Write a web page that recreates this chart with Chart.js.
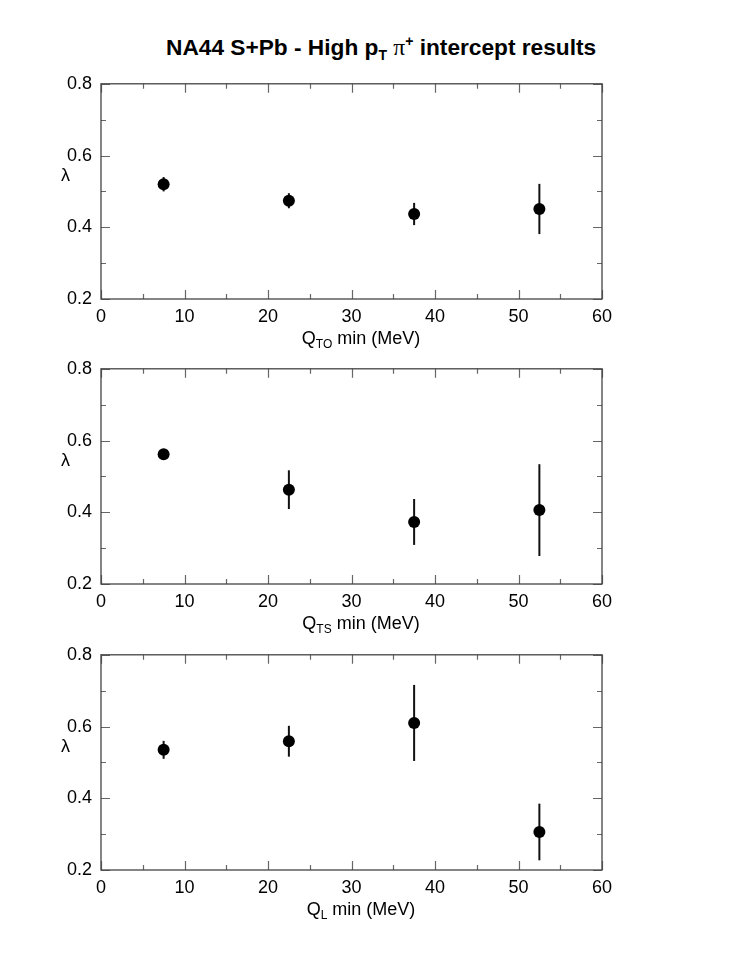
<!DOCTYPE html>
<html>
<head>
<meta charset="utf-8">
<title>NA44 S+Pb intercept results</title>
<script src="https://cdn.jsdelivr.net/npm/chart.js@4.4.0/dist/chart.umd.min.js"></script>
<style>
body{margin:0;background:#fff;width:740px;height:969px;position:relative;overflow:hidden;font-family:"Liberation Sans",Arial,Helvetica,sans-serif;color:#000;}
.panel{position:absolute;left:0;width:740px;}
.lbl{position:absolute;white-space:nowrap;font-size:18px;line-height:18px;}
.lbl sub{font-size:12px;vertical-align:-4px;line-height:0;}
#title{position:absolute;left:166px;top:36px;font-size:22.7px;line-height:22px;font-weight:bold;white-space:nowrap;}
#title sub{font-size:14px;vertical-align:-5px;line-height:0;}
#title sup{font-size:14px;vertical-align:9px;line-height:0;}
#title .pi{font-family:"Liberation Serif",serif;font-weight:normal;font-size:23.5px;}
</style>
</head>
<body>
<div id="title">NA44 S+Pb - High p<sub>T</sub> <span class="pi">&pi;</span><sup>+</sup> intercept results</div>
<div id="panels"></div>
<script>
// DATA
const qMin = [7.5, 22.5, 37.5, 52.5];
const lambdaTO = [0.520, 0.474, 0.437, 0.451];
const errTO = [0.020, 0.021, 0.031, 0.070];
const lambdaTS = [0.562, 0.463, 0.373, 0.406];
const errTS = [0.006, 0.054, 0.064, 0.128];
const lambdaL = [0.535, 0.559, 0.610, 0.306];
const errL = [0.025, 0.043, 0.106, 0.079];
const xTickValues = [0, 10, 20, 30, 40, 50, 60];
const yTickValues = [0.2, 0.4, 0.6, 0.8];
const xTitles = ['Q<sub>TO</sub> min (MeV)', 'Q<sub>TS</sub> min (MeV)', 'Q<sub>L</sub> min (MeV)'];

// LAYOUT (page pixels)
const PLOT_TOPS = [84, 369, 655];
const PAD_TOP = 12;
const CANVAS_OFF = 20; // chart.js puts chart area 20px below canvas top with this padding
const FONT = '"Liberation Sans", Arial, Helvetica, sans-serif';

// frame, inward ticks and error bars
const framePlugin = {
	id: 'frame',
	beforeDatasetsDraw(chart) {
		const ctx = chart.ctx;
		const a = chart.chartArea;
		const xs = chart.scales.x;
		const ys = chart.scales.y;
		ctx.save();
		ctx.strokeStyle = '#666';
		ctx.lineWidth = 1.2;
		// x ticks (major every 10, minor every 5)
		for (let v = xs.min; v <= xs.max; v += 5) {
			const px = Math.round(xs.getPixelForValue(v)) + 0.5;
			const len = (v % 10 === 0) ? 9 : 5;
			ctx.beginPath();
			ctx.moveTo(px, a.bottom); ctx.lineTo(px, a.bottom - len);
			ctx.moveTo(px, a.top); ctx.lineTo(px, a.top + len);
			ctx.stroke();
		}
		// y ticks (major every 0.2, minor every 0.1)
		for (let i = 0; i <= 6; i++) {
			const v = ys.min + i * 0.1;
			const py = Math.round(ys.getPixelForValue(v)) + 0.5;
			const len = (i % 2 === 0) ? 9 : 5;
			ctx.beginPath();
			ctx.moveTo(a.left, py); ctx.lineTo(a.left + len, py);
			ctx.moveTo(a.right, py); ctx.lineTo(a.right - len, py);
			ctx.stroke();
		}
		// frame
		ctx.strokeStyle = '#444';
		ctx.lineWidth = 1.3;
		ctx.strokeRect(a.left, a.top, a.right - a.left, a.bottom - a.top);
		// error bars
		const ds = chart.data.datasets[0];
		ctx.strokeStyle = '#111';
		ctx.lineWidth = 2;
		ds.data.forEach((p) => {
			const px = xs.getPixelForValue(p.x);
			ctx.beginPath();
			ctx.moveTo(px, ys.getPixelForValue(p.y - p.err));
			ctx.lineTo(px, ys.getPixelForValue(p.y + p.err));
			ctx.stroke();
		});
		ctx.restore();
	}
};

function makePanel(idx, values, errors) {
	const top = PLOT_TOPS[idx];
	const holder = document.getElementById('panels');
	const div = document.createElement('div');
	div.className = 'panel';
	div.style.top = (top - CANVAS_OFF) + 'px';
	const canvas = document.createElement('canvas');
	canvas.width = 740;
	canvas.height = CANVAS_OFF + 215 + 30;
	div.appendChild(canvas);
	holder.appendChild(div);

	// lambda label
	const lam = document.createElement('div');
	lam.className = 'lbl';
	lam.style.left = '61px';
	lam.style.top = (top + 82) + 'px';
	lam.innerHTML = '&lambda;';
	holder.appendChild(lam);

	// x title
	const xt = document.createElement('div');
	xt.className = 'lbl';
	xt.style.left = '0px';
	xt.style.width = '722px';
	xt.style.textAlign = 'center';
	xt.style.top = (top + 215 + 30) + 'px';
	xt.innerHTML = xTitles[idx];
	holder.appendChild(xt);

	const pts = qMin.map((q, i) => ({ x: q, y: values[i], err: errors[i] }));

	new Chart(canvas.getContext('2d'), {
		type: 'scatter',
		data: {
			datasets: [{
				data: pts,
				pointRadius: 6,
				pointHoverRadius: 6,
				backgroundColor: '#000',
				borderWidth: 0
			}]
		},
		options: {
			responsive: false,
			animation: false,
			events: [],
			layout: { padding: { top: PAD_TOP, right: 138, left: 0, bottom: 0 } },
			plugins: { legend: { display: false }, tooltip: { enabled: false } },
			scales: {
				x: {
					type: 'linear', min: 0, max: 60,
					afterBuildTicks: (s) => { s.ticks = xTickValues.map(v => ({ value: v })); },
					afterFit: (s) => { s.height = 30; },
					grid: { display: false, drawTicks: false },
					border: { display: false },
					ticks: { color: '#000', padding: 7, font: { family: FONT, size: 18 } }
				},
				y: {
					type: 'linear', min: 0.2, max: 0.8,
					afterBuildTicks: (s) => { s.ticks = yTickValues.map(v => ({ value: v })); },
					afterFit: (s) => { s.width = 101; },
					grid: { display: false, drawTicks: false },
					border: { display: false },
					ticks: { color: '#000', padding: 9, font: { family: FONT, size: 18 },
						callback: (v) => v.toFixed(1) }
				}
			}
		},
		plugins: [framePlugin]
	});
}

// MAIN
makePanel(0, lambdaTO, errTO);
makePanel(1, lambdaTS, errTS);
makePanel(2, lambdaL, errL);
</script>
</body>
</html>
